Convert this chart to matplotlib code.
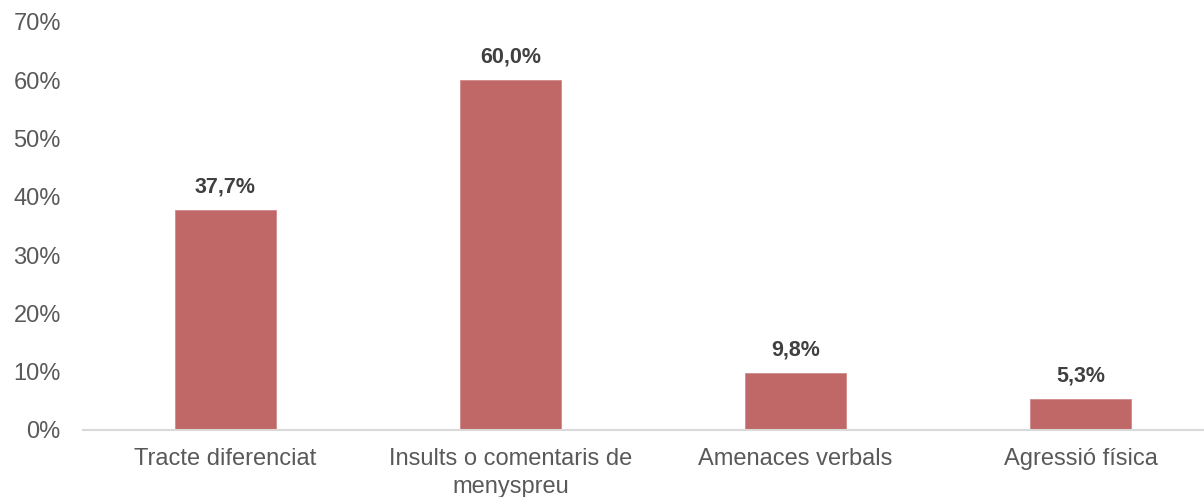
import matplotlib
matplotlib.use("Agg")
import matplotlib.pyplot as plt
from matplotlib.ticker import FuncFormatter

categories = ["Tracte diferenciat", "Insults o comentaris de\nmenyspreu",
              "Amenaces verbals", "Agressió física"]
values = [37.7, 60.0, 9.8, 5.3]
y_ticks = [0, 10, 20, 30, 40, 50, 60, 70]

plt.rcParams["font.family"] = ["Liberation Sans", "DejaVu Sans"]

fig = plt.figure(figsize=(12.04, 4.97), dpi=100)
ax = fig.add_axes([83 / 1204, 67 / 497, 1140 / 1204, 408 / 497])

x = list(range(len(categories)))
ax.bar(x, values, width=0.355, color="#C06868", edgecolor="#D08A8A", linewidth=0.6)

for xi, v in zip(x, values):
    ax.annotate(f"{v:.1f}%".replace(".", ","), (xi, v), xytext=(0, 9),
                textcoords="offset points", ha="center", va="bottom",
                fontsize=15.5, fontweight="bold", color="#404040")

ax.set_xlim(-0.5, 3.5)
ax.set_ylim(0, 70)
ax.set_yticks(y_ticks)
ax.yaxis.set_major_formatter(FuncFormatter(lambda v, _: f"{v:.0f}%"))
ax.set_xticks(x)
ax.set_xticklabels(categories, linespacing=1.35)

for side in ["top", "right", "left"]:
    ax.spines[side].set_visible(False)
ax.spines["bottom"].set_color("#D9D9D9")
ax.spines["bottom"].set_linewidth(1.5)

ax.tick_params(axis="y", length=0, pad=16, labelsize=17, labelcolor="#595959")
ax.tick_params(axis="x", length=0, pad=13, labelsize=17, labelcolor="#595959")

fig.savefig("out.png", dpi=100)
